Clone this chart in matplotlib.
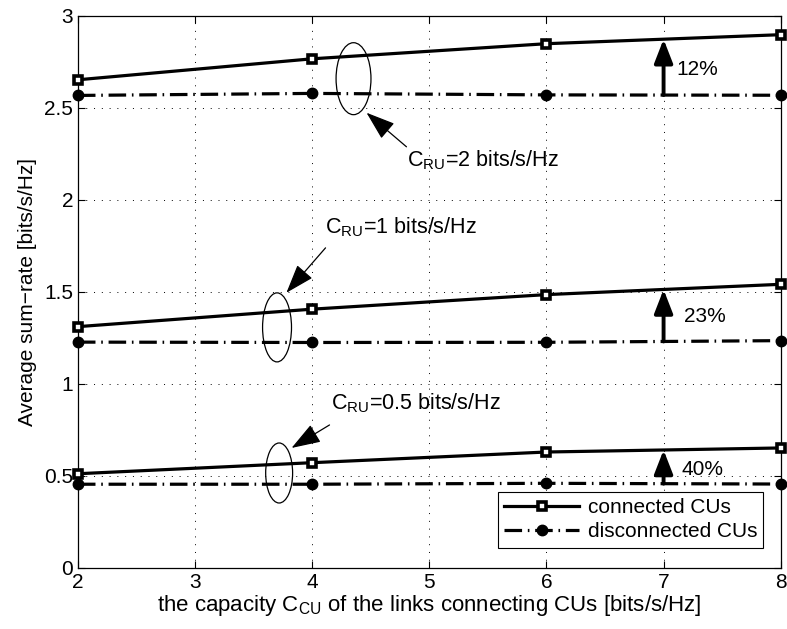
import matplotlib
matplotlib.use('Agg')
import matplotlib.pyplot as plt
from matplotlib.patches import Ellipse
import numpy as np

plt.rcParams['font.family'] = ['Liberation Sans', 'DejaVu Sans']
plt.rcParams['mathtext.fontset'] = 'custom'
plt.rcParams['mathtext.rm'] = 'Liberation Sans'
plt.rcParams['mathtext.it'] = 'Liberation Sans:italic'
plt.rcParams['font.size'] = 15

# capacity of CU links
c_cu = [2, 4, 6, 8]

# sum-rate, connected CUs, per C_RU
conn_2 = [2.652, 2.766, 2.848, 2.897]
conn_1 = [1.311, 1.406, 1.485, 1.541]
conn_05 = [0.512, 0.572, 0.630, 0.652]

# sum-rate, disconnected CUs
disc_2 = [2.567, 2.578, 2.570, 2.568]
disc_1 = [1.227, 1.225, 1.226, 1.235]
disc_05 = [0.455, 0.455, 0.460, 0.456]

gains = ['12%', '23%', '40%']
cru_labels = ['2', '1', '0.5']

fig = plt.figure(figsize=(7.87, 6.29), dpi=100)
ax = fig.add_axes([0.099, 0.097, 0.893, 0.878])

dashdot = (0, (5.5, 1.8, 0.5, 1.8))
for i, (c, d) in enumerate([(conn_2, disc_2), (conn_1, disc_1), (conn_05, disc_05)]):
    ax.plot(c_cu, c, '-', color='k', lw=2.3, marker='s', ms=5.5, mfc='white',
            mec='k', mew=2.6, label='connected CUs' if i == 0 else None, clip_on=False, zorder=4)
    ax.plot(c_cu, d, linestyle=dashdot, color='k', lw=2.3, marker='o', ms=7.5,
            mfc='k', mec='k', label='disconnected CUs' if i == 0 else None, clip_on=False, zorder=4)
    # gain arrow at x=7
    y0 = np.interp(7, c_cu, d)
    y1 = np.interp(7, c_cu, c)
    ax.annotate('', xy=(7, y1), xytext=(7, y0),
                arrowprops=dict(arrowstyle='-|>,head_length=0.9,head_width=0.35',
                                lw=2.8, color='k', mutation_scale=16,
                                shrinkA=0, shrinkB=0), zorder=5)

# gain labels
ax.text(7.107, 2.679, gains[0], fontsize=15)
ax.text(7.175, 1.337, gains[1], fontsize=15)
ax.text(7.150, 0.505, gains[2], fontsize=15)

# ellipses around curve pairs
ax.add_patch(Ellipse((4.353, 2.658), 0.298, 0.391, fill=False, lw=0.9, ec='k', zorder=6))
ax.add_patch(Ellipse((3.700, 1.307), 0.247, 0.375, fill=False, lw=0.9, ec='k', zorder=6))
ax.add_patch(Ellipse((3.718, 0.516), 0.230, 0.326, fill=False, lw=0.9, ec='k', zorder=6))

arrow_kw = dict(arrowstyle='-|>,head_length=1.3,head_width=0.45', lw=0.9, color='k',
                mutation_scale=14, shrinkA=0, shrinkB=0)
ax.annotate('', xy=(4.464, 2.473), xytext=(4.805, 2.288), arrowprops=arrow_kw)
ax.annotate('', xy=(3.780, 1.495), xytext=(4.114, 1.739), arrowprops=arrow_kw)
ax.annotate('', xy=(3.824, 0.652), xytext=(4.148, 0.777), arrowprops=arrow_kw)

ax.text(4.813, 2.179, r'C$_\mathrm{RU}$=' + cru_labels[0] + ' bits/s/Hz', fontsize=15.5)
ax.text(4.106, 1.815, r'C$_\mathrm{RU}$=' + cru_labels[1] + ' bits/s/Hz', fontsize=15.5)
ax.text(4.157, 0.859, r'C$_\mathrm{RU}$=' + cru_labels[2] + ' bits/s/Hz', fontsize=15.5)

ax.set_xlim(2, 8)
ax.set_ylim(0, 3)
ax.set_xticks([2, 3, 4, 5, 6, 7, 8])
ax.set_yticks([0, 0.5, 1, 1.5, 2, 2.5, 3])
ax.set_yticklabels(['0', '0.5', '1', '1.5', '2', '2.5', '3'])
ax.tick_params(direction='in', top=True, right=True, length=5, width=0.8, labelsize=15)
ax.grid(True, color='k', linestyle=(0, (1, 7)), lw=0.7)
for s in ax.spines.values():
    s.set_linewidth(0.9)

ax.set_xlabel(r'the capacity C$_\mathrm{CU}$ of the links connecting CUs [bits/s/Hz]',
              fontsize=16, labelpad=1)
ax.set_ylabel('Average sum\u2212rate [bits/s/Hz]', fontsize=15, labelpad=5)

leg = ax.legend(loc='lower right', bbox_to_anchor=(0.99, 0.018), fontsize=15,
                handlelength=3.6, frameon=True, fancybox=False, edgecolor='k',
                framealpha=1, borderpad=0.3, labelspacing=0.25, handletextpad=0.4)
leg.get_frame().set_linewidth(0.8)

fig.savefig('out.png', dpi=100)
